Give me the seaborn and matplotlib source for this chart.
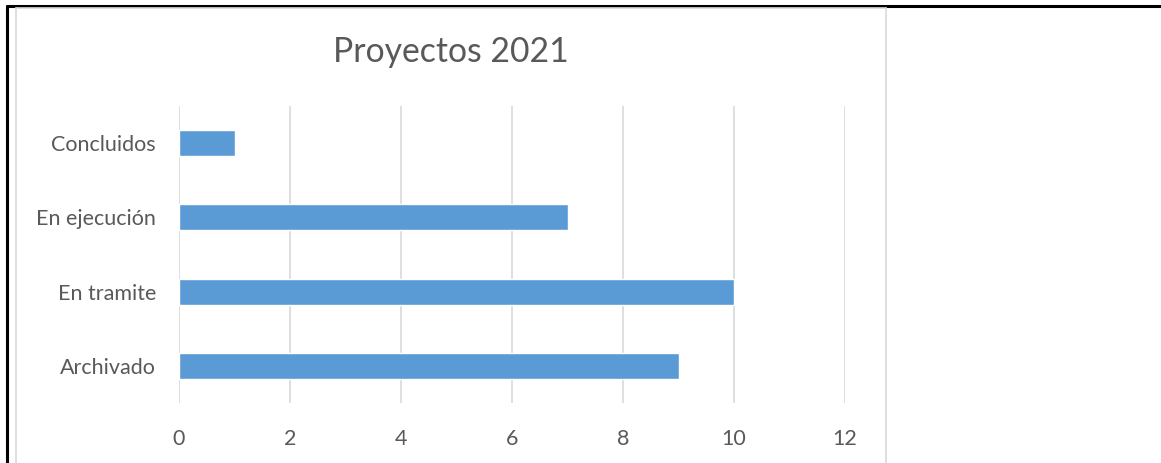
import matplotlib
matplotlib.use("Agg")
import matplotlib.pyplot as plt
import seaborn as sns
import pandas as pd
from matplotlib.lines import Line2D

categories = ["Concluidos", "En ejecución", "En tramite", "Archivado"]
values = [1, 7, 10, 9]
x_ticks = [0, 2, 4, 6, 8, 10, 12]
title = "Proyectos 2021"

sns.set_theme(style="white")
plt.rcParams['font.family'] = ['Lato', 'DejaVu Sans']

W, H = 1161, 463
fig = plt.figure(figsize=(W / 100, H / 100), dpi=100)
fig.patch.set_facecolor("white")

ax = fig.add_axes([179 / W, 60 / H, (845 - 179) / W, (403 - 106) / H])
df = pd.DataFrame({"cat": categories, "val": values})
sns.barplot(data=df, x="val", y="cat", order=categories, color="#5B9BD5",
            width=0.35, saturation=1, ax=ax, zorder=3)

ax.set_xlim(0, 12)
ax.set_ylim(3.5, -0.5)
ax.set_xticks(x_ticks)
ax.set_xticklabels([str(t) for t in x_ticks])
ax.set_xlabel("")
ax.set_ylabel("")
for s in ax.spines.values():
    s.set_visible(False)
ax.grid(False)
for t in x_ticks:
    ax.axvline(t, color="#D9D9D9", lw=1.2, zorder=1)
ax.tick_params(axis="both", length=0, labelcolor="#595959", labelsize=15.5)
ax.tick_params(axis="y", pad=16.5)
ax.tick_params(axis="x", pad=19)

fig.text(451 / W, 1 - 52 / H, title, ha="center", va="center",
         fontsize=24.3, color="#595959")

# outer black frame lines
fig.add_artist(Line2D([7 / W, 1], [1 - 5.5 / H, 1 - 5.5 / H], color="black", lw=2.2,
                      transform=fig.transFigure))
fig.add_artist(Line2D([7 / W, 7 / W], [0, 1 - 5.5 / H], color="black", lw=2.2,
                      transform=fig.transFigure))
# chart area gray frame
gy = 1 - 7.5 / H
fig.add_artist(Line2D([16 / W, 886 / W], [gy, gy], color="#D9D9D9", lw=1.2,
                      transform=fig.transFigure))
fig.add_artist(Line2D([16 / W, 16 / W], [0, gy], color="#D9D9D9", lw=1.2,
                      transform=fig.transFigure))
fig.add_artist(Line2D([886 / W, 886 / W], [0, gy], color="#D9D9D9", lw=1.2,
                      transform=fig.transFigure))

fig.savefig("out.png", dpi=100)
